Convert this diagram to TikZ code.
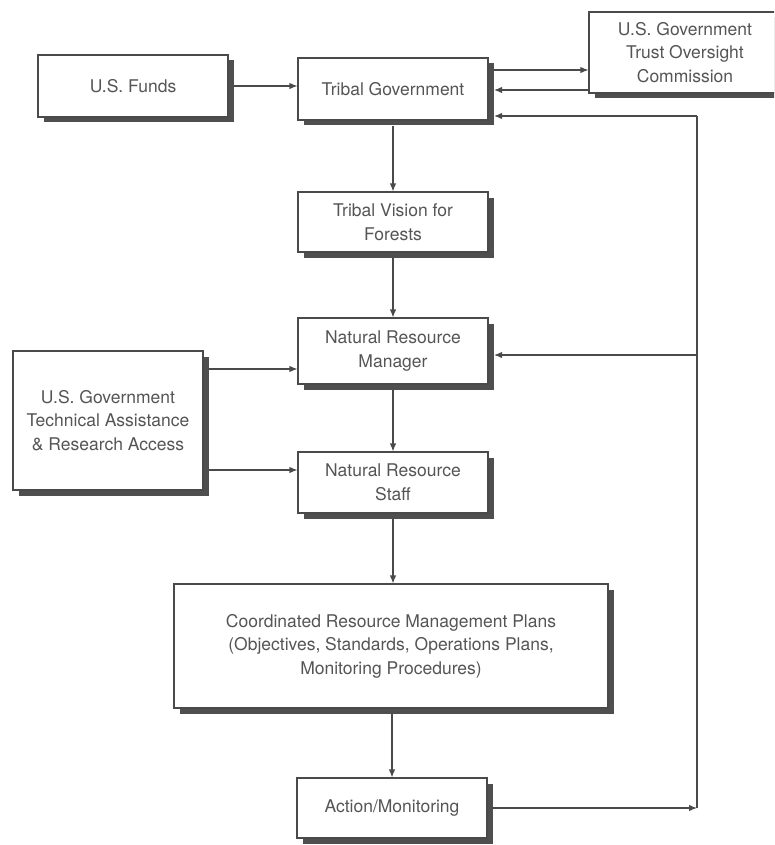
\documentclass[tikz,border=0pt]{standalone}
\usepackage{fontspec}
\setmainfont{TeX Gyre Heros}
\usetikzlibrary{arrows.meta,shadows}
\definecolor{ink}{HTML}{4A4A4A}
\definecolor{txt}{HTML}{555555}
\definecolor{shade}{HTML}{4F4F4F}
\tikzset{
  boxnode/.style={draw=ink, line width=1.1pt, fill=white, text=txt, align=center,
    inner sep=0pt, font=\fontsize{17.5}{23.5}\selectfont,
    drop shadow={shadow xshift=5.5pt, shadow yshift=-5.5pt, fill=shade, opacity=1}},
  arr/.style={draw=ink, line width=1.2pt, -{Latex[length=8pt,width=6.5pt]}},
  ln/.style={draw=ink, line width=1.2pt}
}
\begin{document}
\begin{tikzpicture}[x=1pt,y=-1pt]
\clip (0,0) rectangle (774,845);
\fill[white] (0,0) rectangle (774,845);
% nodes
\node[boxnode, minimum width=190pt, minimum height=62pt] (funds) at (133,86) {U.S. Funds};
\node[boxnode, minimum width=190pt, minimum height=62pt] (tribal) at (393,89) {Tribal Government};
\node[boxnode, minimum width=192pt, minimum height=81pt] (trust) at (685,52.5) {U.S. Government\\Trust Oversight\\Commission};
\node[boxnode, minimum width=190pt, minimum height=60pt] (vision) at (393,222) {Tribal Vision for\\Forests};
\node[boxnode, minimum width=190pt, minimum height=66pt] (nrm) at (393,351) {Natural Resource\\Manager};
\node[boxnode, minimum width=190pt, minimum height=139pt] (tech) at (108,420.5) {U.S. Government\\Technical Assistance\\\& Research Access};
\node[boxnode, minimum width=190pt, minimum height=61pt] (staff) at (393,482.5) {Natural Resource\\Staff};
\node[boxnode, minimum width=434pt, minimum height=124pt] (crmp) at (391,646) {Coordinated Resource Management Plans\\(Objectives, Standards, Operations Plans,\\Monitoring Procedures)};
\node[boxnode, minimum width=190pt, minimum height=60pt] (action) at (392,808) {Action/Monitoring};
% feedback coordinates
\coordinate (fbend) at (697,808);
\coordinate (fbtop) at (697,116);
\coordinate (fbmid) at (697,355);
% connectors
\draw[arr] ([xshift=5.5pt]funds.east) -- (tribal.west |- funds.east);
\draw[arr] ([xshift=5.5pt]tribal.east |- 0,70) -- (trust.west |- 0,70);
\draw[arr] (trust.west |- 0,90) -- ([xshift=5.5pt]tribal.east |- 0,90);
\draw[arr] ([yshift=-5.5pt]tribal.south) -- (vision.north);
\draw[arr] ([yshift=-5.5pt]vision.south) -- (nrm.north);
\draw[arr] ([yshift=-5.5pt]nrm.south) -- (staff.north);
\draw[arr] ([yshift=-5.5pt]staff.south) -- (crmp.north -| staff.south);
\draw[arr] ([yshift=-5.5pt]crmp.south -| action.north) -- (action.north);
\draw[arr] ([xshift=5.5pt]tech.east |- 0,369) -- (nrm.west |- 0,369);
\draw[arr] ([xshift=5.5pt]tech.east |- 0,470) -- (staff.west |- 0,470);
\draw[arr] ([xshift=5.5pt]action.east) -- (fbend);
\draw[ln] (fbend) -- (fbtop);
\draw[arr] (fbtop) -- ([xshift=5.5pt]tribal.east |- fbtop);
\draw[arr] (fbmid) -- ([xshift=5.5pt]nrm.east |- fbmid);
\end{tikzpicture}
\end{document}
